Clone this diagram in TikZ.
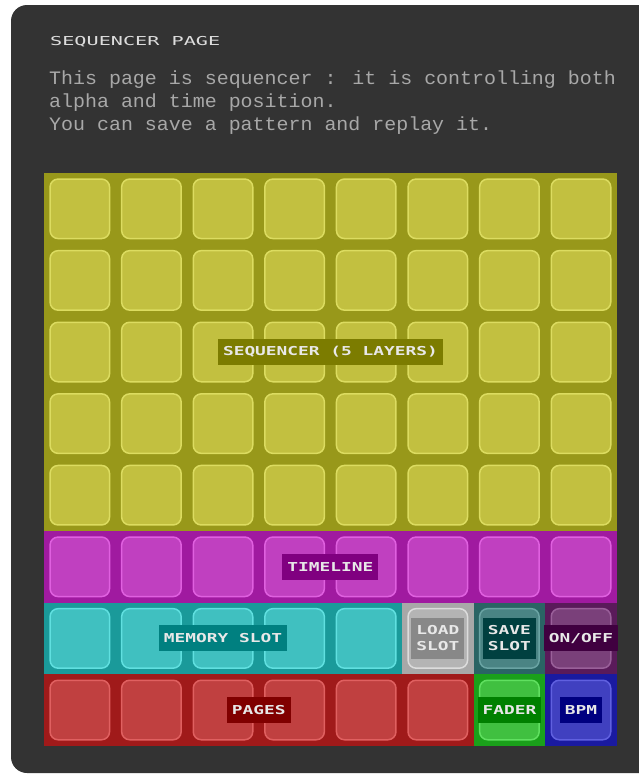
\documentclass[tikz,border=0pt]{standalone}
\usepackage{fontspec}
\usepackage{xcolor}
\usepackage{tikz}
\usetikzlibrary{positioning, calc}

\newfontfamily\descfont[FakeStretch=1.05]{Liberation Mono}
\newfontfamily\pixfont[FakeStretch=1.45]{DejaVu Sans Mono}
\newfontfamily\headfont[FakeStretch=1.64]{DejaVu Sans Mono}

\definecolor{panel}{HTML}{333333}
\definecolor{desctext}{HTML}{A8A8A8}
\definecolor{titletext}{HTML}{DDDDDD}
\definecolor{tagtext}{HTML}{E8E8E8}
% section colours: bg / pad / rim / tag
\definecolor{yelbg}{HTML}{98981A}\definecolor{yelpad}{HTML}{C2C040}\definecolor{yelrim}{HTML}{DCDC60}\definecolor{yeltag}{HTML}{7C7C00}
\definecolor{magbg}{HTML}{A01AA0}\definecolor{magpad}{HTML}{C040C0}\definecolor{magrim}{HTML}{E060E0}\definecolor{magtag}{HTML}{800080}
\definecolor{cyabg}{HTML}{1A9A9A}\definecolor{cyapad}{HTML}{40C0C0}\definecolor{cyarim}{HTML}{60E0E0}\definecolor{cyatag}{HTML}{008080}
\definecolor{redbg}{HTML}{A01A1A}\definecolor{redpad}{HTML}{C04040}\definecolor{redrim}{HTML}{E06060}\definecolor{redtag}{HTML}{800000}
\definecolor{lodbg}{HTML}{A8A8A8}\definecolor{lodpad}{HTML}{B4B4B4}\definecolor{lodrim}{HTML}{DCDCDC}\definecolor{lodtag}{HTML}{888888}
\definecolor{savbg}{HTML}{2A6464}\definecolor{savpad}{HTML}{4A8484}\definecolor{savrim}{HTML}{6AA4A4}\definecolor{savtag}{HTML}{004040}
\definecolor{onfbg}{HTML}{5A1A5A}\definecolor{onfpad}{HTML}{7A407A}\definecolor{onfrim}{HTML}{9A609A}\definecolor{onftag}{HTML}{400040}
\definecolor{fadbg}{HTML}{1AA01A}\definecolor{fadpad}{HTML}{40C040}\definecolor{fadrim}{HTML}{60E060}\definecolor{fadtag}{HTML}{008000}
\definecolor{bpmbg}{HTML}{1A1AA0}\definecolor{bpmpad}{HTML}{4040C0}\definecolor{bpmrim}{HTML}{6060E0}\definecolor{bpmtag}{HTML}{000080}

\def\gx{44}
\def\gy{173}
\def\cell{71.6}

\begin{document}
\begin{tikzpicture}[x=1pt, y=-1pt,
    pad/.style={fill=#1pad, draw=#1rim, line width=1.5pt, rounded corners=8pt,
      minimum size=59.5pt, inner sep=0pt},
    tag/.style={fill=#1tag, text=tagtext, minimum height=26pt, inner xsep=5pt, inner ysep=0pt,
      font=\pixfont\bfseries\fontsize{12.3}{16}\selectfont, align=center},
    desc/.style={anchor=base west, inner xsep=0pt, text=desctext, font=\descfont\fontsize{19}{23}\selectfont}]
  \useasboundingbox (0,0) rectangle (639,774);
  \fill[panel, rounded corners=16pt] (11,5) rectangle (690,773);

  % header
  \node[anchor=base west, inner xsep=0pt, text=titletext, font=\headfont\fontsize{12.3}{14}\selectfont] (title) at (50,45) {SEQUENCER PAGE};
  \node[desc] (line1) at (49,84) {This page is sequencer : it is controlling both};
  \node[desc] (line2) at (49,107) {alpha and time position.};
  \node[desc] (line3) at (49,130) {You can save a pattern and replay it.};

  % section backgrounds
  \fill[yelbg] (\gx,\gy) rectangle ++({8*\cell},{5*\cell});
  \fill[magbg] (\gx,{\gy+5*\cell}) rectangle ++({8*\cell},\cell);
  \fill[cyabg] (\gx,{\gy+6*\cell}) rectangle ++({5*\cell},\cell);
  \fill[lodbg] ({\gx+5*\cell},{\gy+6*\cell}) rectangle ++(\cell,\cell);
  \fill[savbg] ({\gx+6*\cell},{\gy+6*\cell}) rectangle ++(\cell,\cell);
  \fill[onfbg] ({\gx+7*\cell},{\gy+6*\cell}) rectangle ++(\cell,\cell);
  \fill[redbg] (\gx,{\gy+7*\cell}) rectangle ++({6*\cell},\cell);
  \fill[fadbg] ({\gx+6*\cell},{\gy+7*\cell}) rectangle ++(\cell,\cell);
  \fill[bpmbg] ({\gx+7*\cell},{\gy+7*\cell}) rectangle ++(\cell,\cell);

  % pads
  \foreach \r/\k in {0/yel,1/yel,2/yel,3/yel,4/yel,5/mag}
    \foreach \c in {0,...,7}
      \node[pad=\k] (p-\r-\c) at ({\gx+\cell*(\c+.5)},{\gy+\cell*(\r+.5)}) {};
  \foreach \c/\k in {0/cya,1/cya,2/cya,3/cya,4/cya,5/lod,6/sav,7/onf}
    \node[pad=\k] (p-6-\c) at ({\gx+\cell*(\c+.5)},{\gy+\cell*6.5}) {};
  \foreach \c/\k in {0/red,1/red,2/red,3/red,4/red,5/red,6/fad,7/bpm}
    \node[pad=\k] (p-7-\c) at ({\gx+\cell*(\c+.5)},{\gy+\cell*7.5}) {};

  % section labels
  \node[tag=yel] (seq) at ($(p-2-3)!.5!(p-2-4)$) {SEQUENCER (5 LAYERS)};
  \node[tag=mag] (timeline) at ($(p-5-3)!.5!(p-5-4)$) {TIMELINE};
  \node[tag=cya] (memory) at (p-6-2) {MEMORY SLOT};
  \node[tag=lod, inner ysep=8pt] (load) at (p-6-5) {LOAD\\SLOT};
  \node[tag=sav, inner ysep=8pt] (save) at (p-6-6) {SAVE\\SLOT};
  \node[tag=onf] (onoff) at (p-6-7) {ON/OFF};
  \node[tag=red] (pages) at ($(p-7-2)!.5!(p-7-3)$) {PAGES};
  \node[tag=fad] (fader) at (p-7-6) {FADER};
  \node[tag=bpm] (bpm) at (p-7-7) {BPM};
\end{tikzpicture}
\end{document}
